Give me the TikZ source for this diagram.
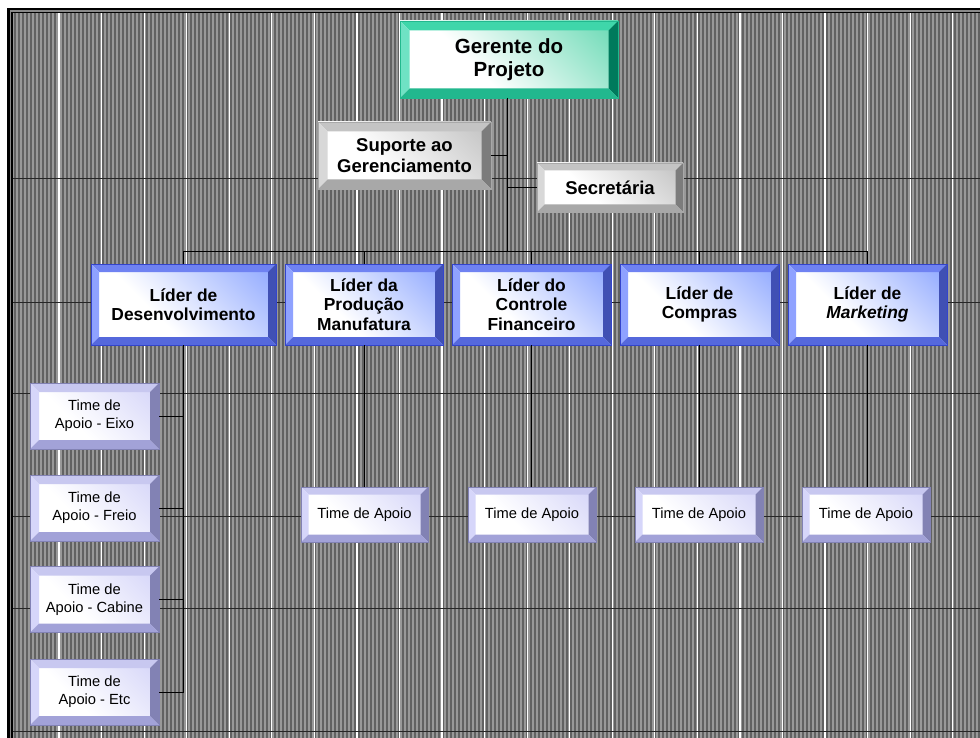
\documentclass[tikz,border=0pt]{standalone}
\usepackage{fontspec}
\setmainfont{Liberation Sans}
\usetikzlibrary{calc}
\definecolor{stripeL}{HTML}{999999}
\definecolor{stripeD}{HTML}{626262}
\definecolor{frameG}{HTML}{8A8A8A}
% teal
\definecolor{tealT}{HTML}{3FD6AA}
\definecolor{tealL}{HTML}{6FE2C4}
\definecolor{tealR}{HTML}{007A5C}
\definecolor{tealB}{HTML}{22B88E}
\definecolor{tealF}{HTML}{33CC99}
% gray
\definecolor{grayT}{HTML}{C4C4C4}
\definecolor{grayL}{HTML}{D8D8D8}
\definecolor{grayR}{HTML}{7C7C7C}
\definecolor{grayB}{HTML}{A8A8A8}
\definecolor{grayF}{HTML}{ABABAB}
% blue
\definecolor{blueT}{HTML}{6F82F2}
\definecolor{blueL}{HTML}{8FA2FF}
\definecolor{blueR}{HTML}{4050B4}
\definecolor{blueB}{HTML}{5568DC}
\definecolor{blueF}{HTML}{6688FF}
\definecolor{blueO}{HTML}{3344CC}
% lavender
\definecolor{lavT}{HTML}{C8C8F0}
\definecolor{lavL}{HTML}{D6D6FA}
\definecolor{lavR}{HTML}{8282B4}
\definecolor{lavB}{HTML}{A2A2D8}
\definecolor{lavF}{HTML}{C4C4F6}
\pgfdeclareverticalshading{fteal}{100bp}{color(0bp)=(white); color(40bp)=(white); color(100bp)=(tealF)}
\pgfdeclareverticalshading{fgray}{100bp}{color(0bp)=(white); color(40bp)=(white); color(100bp)=(grayF)}
\pgfdeclareverticalshading{fblue}{100bp}{color(0bp)=(white); color(40bp)=(white); color(100bp)=(blueF)}
\pgfdeclareverticalshading{flav}{100bp}{color(0bp)=(white); color(40bp)=(white); color(100bp)=(lavF)}
\newcommand\bevelbox[7]{%
\fill[#3] (#1.north west) -- (#1.north east) -- ($(#1.north east)+(-#2,#2)$) -- ($(#1.north west)+(#2,#2)$) -- cycle;
\fill[#4] (#1.north west) -- ($(#1.north west)+(#2,#2)$) -- ($(#1.south west)+(#2,-#2)$) -- (#1.south west) -- cycle;
\fill[#5] (#1.north east) -- ($(#1.north east)+(-#2,#2)$) -- ($(#1.south east)+(-#2,-#2)$) -- (#1.south east) -- cycle;
\fill[#6] (#1.south west) -- ($(#1.south west)+(#2,-#2)$) -- ($(#1.south east)+(-#2,-#2)$) -- (#1.south east) -- cycle;
\draw[#7, line width=0.7pt] (#1.north west) rectangle (#1.south east);
}
\tikzset{
  bx/.style={rectangle, inner sep=0pt, outer sep=0pt, align=center, text=black, shade, shading angle=-45},
  gerbox/.style={bx, shading=fteal, minimum width=218pt, minimum height=77pt, font={\fontsize{20.5pt}{23pt}\selectfont\bfseries}},
  supbox/.style={bx, shading=fgray, font={\fontsize{18.5pt}{21pt}\selectfont\bfseries}},
  leadbox/.style={bx, shading=fblue, minimum height=81pt, font={\fontsize{17.4pt}{19.5pt}\selectfont\bfseries}},
  timebox/.style={bx, shading=flav, minimum width=129pt, minimum height=66pt, font={\fontsize{14.7pt}{18pt}\selectfont}},
  timeone/.style={bx, shading=flav, minimum height=55pt, font={\fontsize{14.7pt}{18pt}\selectfont}},
  conn/.style={draw=black, line width=0.9pt},
  gridl/.style={draw=black!85, line width=0.9pt}
}
\begin{document}
\begin{tikzpicture}[x=1pt,y=-1pt]
\useasboundingbox (0,0) rectangle (980,738);
\begin{scope}
\clip (0,0) rectangle (980,738);
\fill[white] (0,0) rectangle (980,738);
\fill[black] (7.3,8) rectangle (980,738);
\fill[frameG] (10,10.5) rectangle (980,738);
\fill[black] (11.3,11.8) rectangle (980,738);
\fill[stripeL] (12.7,13.2) rectangle (980,738);
\foreach \x in {14,18,...,978} \fill[stripeD] (\x,13.2) rectangle ++(2,725);
\foreach \k in {0,...,21} \fill[white] ({59+42.56*\k-0.6},13.2) rectangle ++(1.2,725);
\foreach \y in {178,302,393,516,608,731} \draw[gridl] (12.7,\y) -- (980,\y);
\end{scope}
% nodes
\node[gerbox] (G) at (509,59.5) {Gerente do\\Projeto};
\node[supbox, minimum width=173pt, minimum height=67pt] (S) at (404.5,155.5) {Suporte ao\\Gerenciamento};
\node[supbox, minimum width=146pt, minimum height=49pt] (Sec) at (610,187.5) {Secretária};
\node[leadbox, minimum width=185pt] (L1) at (183.5,304.5) {Líder de\\Desenvolvimento};
\node[leadbox, minimum width=158pt] (L2) at (364,304.5) {Líder da\\Produção\\Manufatura};
\node[leadbox, minimum width=159pt] (L3) at (531.5,304.5) {Líder do\\Controle\\Financeiro};
\node[leadbox, minimum width=159pt] (L4) at (699.5,304.5) {Líder de\\Compras};
\node[leadbox, minimum width=159pt] (L5) at (867.5,304.5) {Líder de\\\textit{Marketing}};
\node[timebox] (T1) at (94.5,416) {Time de\\Apoio - Eixo};
\node[timebox] (T2) at (94.5,508) {Time de\\Apoio - Freio};
\node[timebox] (T3) at (94.5,599.5) {Time de\\Apoio - Cabine};
\node[timebox] (T4) at (94.5,692) {Time de\\Apoio - Etc};
\node[timeone, minimum width=127pt] (A2) at (364.5,514.5) {Time de Apoio};
\node[timeone, minimum width=128pt] (A3) at (532,514.5) {Time de Apoio};
\node[timeone, minimum width=128pt] (A4) at (699,514.5) {Time de Apoio};
\node[timeone, minimum width=128pt] (A5) at (866,514.5) {Time de Apoio};
% bevels
\bevelbox{G}{9.5}{tealT}{tealL}{tealR}{tealB}{tealB}
\bevelbox{S}{9.5}{grayT}{grayL}{grayR}{grayB}{grayB}
\bevelbox{Sec}{7.5}{grayT}{grayL}{grayR}{grayB}{grayB}
\foreach \n in {L1,L2,L3,L4,L5} {\bevelbox{\n}{8}{blueT}{blueL}{blueR}{blueB}{blueO}}
\foreach \n in {T1,T2,T3,T4} {\bevelbox{\n}{9}{lavT}{lavL}{lavR}{lavB}{lavR}}
\foreach \n in {A2,A3,A4,A5} {\bevelbox{\n}{7.5}{lavT}{lavL}{lavR}{lavB}{lavR}}
% connectors
\coordinate (bus) at (507,251);
\coordinate (trunk) at (507,98);
\draw[conn] (trunk) -- (bus);
\draw[conn] (S.east) -- (S.east -| bus);
\draw[conn] (Sec.west) -- (Sec.west -| bus);
\draw[conn] (L1.north |- bus) -- (L5.north |- bus);
\foreach \n in {L1,L2,L3,L4,L5} \draw[conn] (\n.north |- bus) -- (\n.north);
\draw[conn] (L1.south) -- (L1.south |- T4.east);
\foreach \n in {T1,T2,T3,T4} \draw[conn] (\n.east) -- (\n.east -| L1.south);
\draw[conn] (L2.south) -- (L2.south |- A2.north);
\draw[conn] (L3.south) -- (L3.south |- A3.north);
\draw[conn] (L4.south) -- (L4.south |- A4.north);
\draw[conn] (L5.south) -- (L5.south |- A5.north);
\end{tikzpicture}
\end{document}
